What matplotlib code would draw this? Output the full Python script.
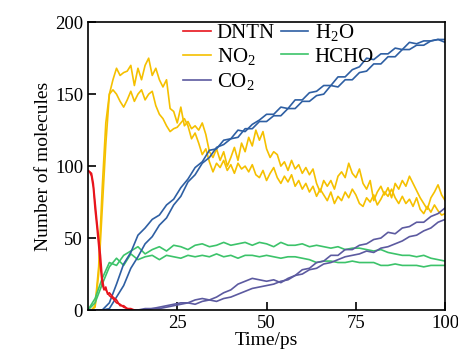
import numpy as np
import matplotlib.pyplot as plt

plt.rcParams['font.family'] = ['Liberation Serif', 'DejaVu Serif']
plt.rcParams['mathtext.fontset'] = 'custom'
plt.rcParams['mathtext.rm'] = 'Liberation Serif'

# DNTN decay (fine time steps at the start)
t_dntn = [0, 0.5, 1, 1.5, 2, 2.5, 3, 3.5, 4, 4.5, 5, 5.5, 6, 7, 8, 9, 10, 11, 12, 13]
dntn_a = [97, 96, 95, 88, 75, 62, 50, 38, 22, 15, 14, 12, 10, 8, 5, 4, 2, 1, 0, 0]
dntn_b = [97, 96, 93, 85, 70, 58, 45, 30, 18, 14, 16, 11, 12, 9, 7, 3, 3, 1, 1, 0]

# NO2, every 1 ps
t_no2 = list(range(0, 101))
no2_a = [0, 0, 3, 30, 85, 130, 150, 160, 168, 163, 165, 166, 170, 156, 168, 160, 170, 175, 163, 168,
         160, 155, 160, 140, 138, 130, 141, 128, 131, 126, 128, 125, 130, 122, 110, 106, 112, 104, 110, 100,
         106, 113, 104, 116, 110, 120, 114, 125, 118, 124, 112, 106, 110, 108, 100, 103, 97, 104, 98, 101,
         95, 99, 94, 98, 88, 82, 90, 86, 90, 84, 93, 96, 92, 102, 95, 92, 98, 88, 84, 90,
         76, 82, 86, 80, 85, 78, 88, 84, 90, 86, 93, 88, 83, 78, 74, 70, 78, 82, 87, 80, 76]
no2_b = [0, 0, 2, 25, 70, 115, 150, 153, 150, 145, 141, 146, 152, 145, 150, 153, 146, 150, 152, 142,
         136, 133, 128, 124, 126, 127, 130, 133, 128, 119, 123, 116, 108, 112, 103, 96, 102, 99, 104, 97,
         101, 95, 102, 98, 100, 96, 101, 94, 92, 97, 90, 95, 99, 92, 88, 93, 89, 94, 86, 90,
         84, 88, 82, 86, 79, 84, 80, 76, 82, 74, 79, 76, 82, 78, 84, 80, 74, 72, 78, 75,
         80, 73, 77, 82, 79, 84, 78, 74, 79, 74, 77, 72, 78, 70, 67, 72, 68, 73, 69, 66, 67]

# other species, every 2 ps
t2 = list(range(0, 101, 2))
h2o_a = [0, 0, 0, 5, 18, 32, 40, 52, 57, 63, 66, 73, 77, 85, 91, 99, 103, 111, 112, 118,
         119, 125, 124, 129, 132, 136, 136, 141, 140, 146, 146, 151, 152, 156, 156, 162, 162, 167, 169, 175,
         174, 178, 178, 182, 181, 186, 185, 187, 187, 188, 188]
h2o_b = [0, 0, 0, 1, 9, 17, 29, 37, 46, 51, 59, 64, 73, 79, 89, 94, 102, 106, 113, 115,
         119, 120, 126, 126, 131, 131, 135, 135, 140, 140, 145, 145, 149, 150, 156, 155, 160, 160, 165, 166,
         171, 171, 176, 176, 181, 181, 184, 184, 187, 188, 186]
hcho_a = [0, 8, 22, 33, 31, 38, 41, 44, 39, 42, 44, 41, 45, 44, 42, 45, 46, 44, 45, 47,
          45, 46, 47, 45, 47, 46, 44, 47, 45, 45, 46, 44, 45, 44, 43, 44, 42, 43, 43, 42,
          41, 42, 40, 39, 38, 38, 37, 38, 36, 35, 34]
hcho_b = [0, 5, 18, 30, 36, 31, 39, 35, 37, 38, 35, 38, 37, 36, 38, 37, 38, 37, 39, 37,
          38, 36, 38, 38, 37, 38, 37, 36, 37, 37, 36, 35, 33, 34, 34, 33, 33, 34, 33, 33,
          33, 31, 31, 32, 31, 31, 31, 30, 31, 31, 31]
co2_a = [0, 0, 0, 0, 0, 0, 0, 0, 1, 1, 2, 3, 4, 5, 5, 7, 8, 7, 9, 12,
         14, 18, 20, 22, 21, 20, 21, 19, 22, 24, 28, 29, 33, 34, 38, 38, 42, 42, 45, 46,
         49, 50, 54, 53, 57, 58, 61, 61, 65, 67, 71]
co2_b = [0, 0, 0, 0, 0, 0, 0, 0, 0, 1, 1, 2, 3, 4, 5, 4, 6, 7, 6, 8,
         9, 11, 13, 15, 16, 17, 18, 20, 21, 24, 25, 28, 29, 32, 33, 35, 37, 38, 39, 41,
         40, 43, 44, 46, 48, 51, 52, 55, 57, 61, 63]

c_dntn = '#e8141c'
c_no2 = '#f5c000'
c_h2o = '#2e5fa3'
c_hcho = '#3cc36a'
c_co2 = '#5c5aa0'

fig = plt.figure(figsize=(4.58, 3.58), dpi=100)
ax = fig.add_axes([0.192, 0.134, 0.780, 0.804])
lw = 1.2

ax.plot(t_no2, no2_a, color=c_no2, lw=lw)
ax.plot(t_no2, no2_b, color=c_no2, lw=lw)
ax.plot(t2, hcho_a, color=c_hcho, lw=lw)
ax.plot(t2, hcho_b, color=c_hcho, lw=lw)
ax.plot(t2, h2o_a, color=c_h2o, lw=lw)
ax.plot(t2, h2o_b, color=c_h2o, lw=lw)
ax.plot(t2, co2_a, color=c_co2, lw=lw)
ax.plot(t2, co2_b, color=c_co2, lw=lw)
ax.plot(t_dntn, dntn_a, color=c_dntn, lw=lw)
ax.plot(t_dntn, dntn_b, color=c_dntn, lw=lw)

# legend proxies
h = [plt.Line2D([], [], color=c, lw=lw) for c in [c_dntn, c_no2, c_co2, c_h2o, c_hcho]]
labels = ['DNTN', r'NO$_2$', r'CO$_2$', r'H$_2$O', 'HCHO']
ax.legend(h, labels, ncol=2, frameon=False, fontsize=15,
          loc='upper left', bbox_to_anchor=(0.215, 1.065),
          handlelength=1.3, handletextpad=0.3, columnspacing=0.3, labelspacing=0.15)

ax.set_xlim(0, 100)
ax.set_ylim(0, 200)
ax.set_xticks([25, 50, 75, 100])
ax.set_yticks([0, 50, 100, 150, 200])
ax.tick_params(direction='in', length=6, width=1.2, labelsize=13.5)
for s in ax.spines.values():
    s.set_linewidth(1.2)
ax.set_xlabel('Time/ps', fontsize=14, labelpad=0)
ax.set_ylabel('Number of molecules', fontsize=14, labelpad=2)

fig.savefig('out.png', dpi=100)
